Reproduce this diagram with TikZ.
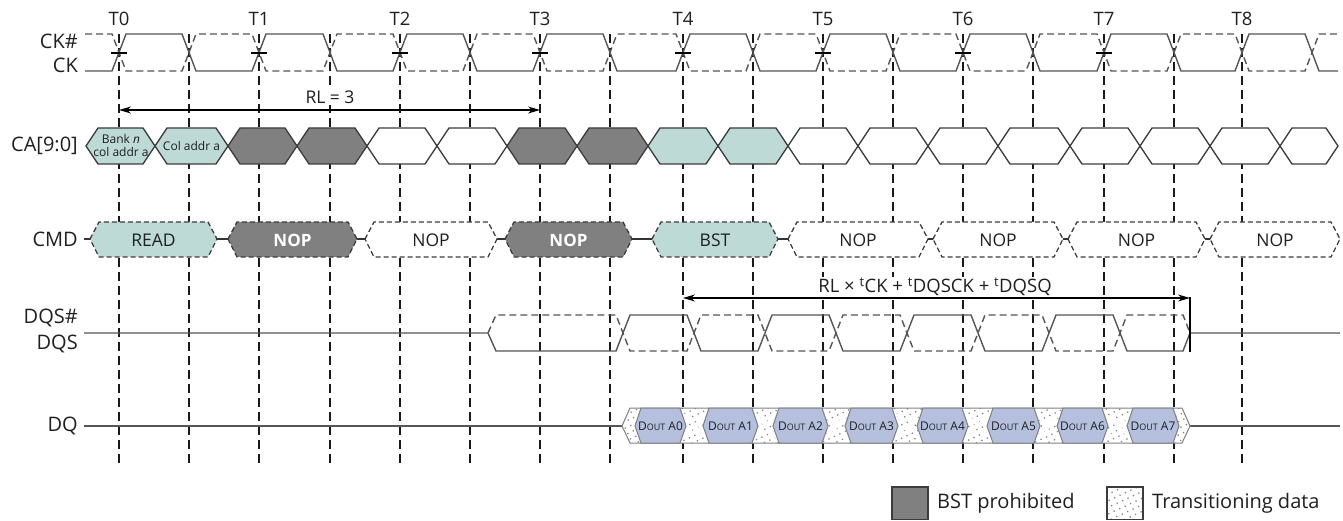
\documentclass[tikz,border=0pt]{standalone}
\usepackage{fontspec}
\setmainfont{Open Sans}
\usetikzlibrary{patterns.meta,arrows.meta}
\definecolor{boxteal}{RGB}{189,218,215}
\definecolor{boxdark}{RGB}{128,128,128}
\definecolor{dqblue}{RGB}{180,192,222}
\definecolor{wavec}{RGB}{85,85,85}
\definecolor{edgec}{RGB}{60,60,60}
\begin{document}
\begin{tikzpicture}[x=1pt,y=-1pt,
  lbl/.style={font=\fontsize{20}{22}\selectfont, inner sep=0pt, text=black!88},
  tlbl/.style={font=\fontsize{18.5}{20}\selectfont, inner sep=0pt, text=black!88},
  cmdtxt/.style={font=\fontsize{17.5}{19}\selectfont, inner sep=0pt, text=black!88},
  cmdbold/.style={font=\fontsize{17}{19}\selectfont\bfseries, inner sep=0pt, text=white},
  vdash/.style={black!90, line width=1.5pt, dash pattern=on 9pt off 5pt},
  wave/.style={wavec, line width=1.4pt},
  wavedash/.style={wavec, line width=1.4pt, dash pattern=on 7pt off 4pt},
  cabox/.style={draw=edgec, line width=1.3pt},
  cmdbox/.style={draw=edgec, line width=1.3pt, dash pattern=on 5pt off 3pt},
  dqbox/.style={draw=gray, line width=1pt, fill=dqblue},
  dotfill/.style={fill=white, postaction={pattern={Dots[distance=6pt,radius=0.9pt,angle=25]}, pattern color=gray}},
  xmark/.style={white, line width=2.6pt},
  meas/.style={black, line width=1.2pt},
  both tips/.style={{Stealth[length=12pt,width=7pt]}-{Stealth[length=12pt,width=7pt]}}
]
\useasboundingbox (0,0) rectangle (1343,521);

% vertical dashed reference lines
\foreach \x in {119,189,259,330,400,470,540,610,683,753,823,893,963,1033,1104,1174,1242}
  \draw[vdash] (\x,34) -- (\x,463);

% clock labels
\foreach \x [count=\i from 0] in {119,259,400,540,683,823,963,1104,1242}
  \node[tlbl] (t\i) at (\x,19) {T\i};

% row labels
\node[lbl, anchor=east] (lckn) at (78,41) {CK\#};
\node[lbl, anchor=east] (lck) at (78,65) {CK};
\node[lbl, anchor=east] (lca) at (78,146) {CA[9:0]};
\node[lbl, anchor=east] (lcmd) at (78,239) {CMD};
\node[lbl, anchor=east] (ldqsn) at (78,318) {DQS\#};
\node[lbl, anchor=east] (ldqs) at (78,344) {DQS};
\node[lbl, anchor=east] (ldq) at (78,426) {DQ};

% CK and CK#
\draw[wave] (85,71) \foreach \r/\f in {119/189,259/330,400/470,540/610,683/753,823/893,963/1033,1104/1174,1242/1312}
  { -- (\r-7,71) -- (\r+7,34) -- (\f-7,34) -- (\f+7,71) } -- (1338,71);
\draw[wavedash] (85,34) \foreach \r/\f in {119/189,259/330,400/470,540/610,683/753,823/893,963/1033,1104/1174,1242/1312}
  { -- (\r-7,34) -- (\r+7,71) -- (\f-7,71) -- (\f+7,34) } -- (1338,34);
\foreach \r in {119,259,400,540,683,823,963,1104}
  \draw[black, line width=1.2pt] (\r-8,53) -- (\r+8,53);

% RL = 3
\coordinate (rla) at (119,110);
\coordinate (rlb) at (540,110);
\draw[meas, both tips] (rla) -- (rlb);
\node[fill=white, inner sep=2pt, font=\fontsize{17.5}{19}\selectfont, text=black!88] (rl3) at (330,97) {RL = 3};

% CA row
\foreach \a/\b/\f in {86/155/boxteal,155/228/boxteal,228/297/boxdark,297/367/boxdark,367/437/white,437/507/white,507/577/boxdark,577/648/boxdark,648/718/boxteal,718/788/boxteal,788/858/white,858/928/white,928/998/white,998/1070/white,1070/1140/white,1140/1210/white,1210/1280/white,1280/1338/white}
  \draw[cabox, fill=\f] (\a,146) -- (\a+12,128) -- (\b-12,128) -- (\b,146) -- (\b-12,164) -- (\a+12,164) -- cycle;
\node[align=center, inner sep=0pt, font=\fontsize{12}{13}\selectfont, text=black!88] (ca0) at (121,146) {Bank \textit{n}\\col addr a};
\node[inner sep=0pt, font=\fontsize{12}{13}\selectfont, text=black!88] (ca1) at (191.5,146) {Col addr a};

% CMD row
\draw[black!80, line width=1.2pt] (84,239) -- (1340,239);
\foreach \a/\b/\f/\t [count=\i] in {90/217/boxteal/READ,365/497/white/NOP,652/778/boxteal/BST,788/928/white/NOP,933/1063/white/NOP,1068/1205/white/NOP,1210/1340/white/NOP}
{
  \draw[cmdbox, fill=\f] (\a,239) -- (\a+9,222) -- (\b-9,222) -- (\b,239) -- (\b-9,257) -- (\a+9,257) -- cycle;
  \node[cmdtxt] (cmd\i) at ({(\a+\b)/2},240) {\t};
}
\foreach \a/\b [count=\i] in {228/357,505/632}
{
  \draw[cmdbox, fill=boxdark] (\a,239) -- (\a+9,222) -- (\b-9,222) -- (\b,239) -- (\b-9,257) -- (\a+9,257) -- cycle;
  \node[cmdbold] (cmdb\i) at ({(\a+\b)/2},240) {NOP};
}

% DQS / DQS#
\draw[wave] (84,333) -- (488,333) -- (496,351)
  \foreach \c/\ya/\yb in {623/351/315,694/315/351,765/351/315,836/315/351,907/351/315,978/315/351,1049/351/315,1120/315/351}
  { -- (\c-7,\ya) -- (\c+7,\yb) } -- (1183,351) -- (1190,333) -- (1340,333);
\draw[wavedash] (488,333) -- (496,315)
  \foreach \c/\ya/\yb in {623/315/351,694/351/315,765/315/351,836/351/315,907/315/351,978/351/315,1049/315/351,1120/351/315}
  { -- (\c-7,\ya) -- (\c+7,\yb) } -- (1183,315) -- (1190,333);

% RL x tCK + ... measurement
\coordinate (ma) at (683,298);
\coordinate (mb) at (1190,298);
\coordinate (mbt) at (1190,297);
\coordinate (mbb) at (1190,352);
\draw[meas, both tips] (ma) -- (mb);
\draw[meas] (mbt) -- (mbb);
\node[fill=white, inner sep=1.5pt, font=\fontsize{18.5}{20}\selectfont, text=black!88] (mlbl) at (935,287)
  {RL × \textsuperscript{t}CK + \textsuperscript{t}DQSCK + \textsuperscript{t}DQSQ};

% DQ row
\draw[wave] (84,426) -- (622,426);
\draw[wave] (1190,426) -- (1340,426);
\path[dotfill] (622,426) -- (630,408) -- (1182,408) -- (1190,426) -- (1182,443) -- (630,443) -- cycle;
\foreach \r/\l in {686/703,758/773,828/845,898/917,968/987,1040/1057,1108/1127}
{
  \draw[xmark] (\r-7,410) -- (\l+7,441);
  \draw[xmark] (\r-7,441) -- (\l+7,410);
}
\draw[gray, line width=1pt] (622,426) -- (630,408) -- (1182,408) -- (1190,426) -- (1182,443) -- (630,443) -- cycle;
\foreach \a/\b [count=\i from 0] in {635/686,703/758,773/828,845/898,917/968,987/1040,1057/1108,1127/1179}
{
  \draw[dqbox] (\a,426) -- (\a+6,408) -- (\b-6,408) -- (\b,426) -- (\b-6,443) -- (\a+6,443) -- cycle;
  \node[inner sep=0pt, font=\fontsize{12}{12}\selectfont, text=black!88] (dq\i) at ({(\a+\b)/2},426) {D{\fontsize{9}{9}\selectfont OUT} A\i};
}

% legend
\draw[fill=boxdark, draw=edgec, line width=1.2pt] (892,487) rectangle (928,519.5);
\node[lbl, anchor=west] (leg1) at (937,503) {BST prohibited};
\path[dotfill] (1107,487) rectangle (1143,519.5);
\draw[edgec, line width=1.2pt] (1107,487) rectangle (1143,519.5);
\node[lbl, anchor=west] (leg2) at (1152,503) {Transitioning data};
\end{tikzpicture}
\end{document}
